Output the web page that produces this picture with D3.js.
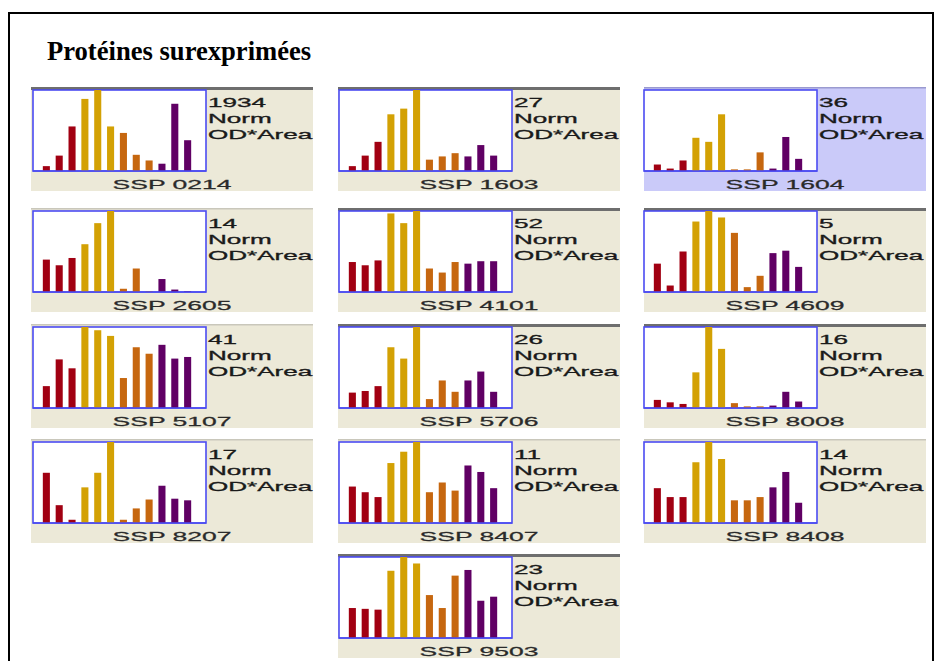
<!DOCTYPE html>
<html>
<head>
<meta charset="utf-8">
<script src="https://cdn.jsdelivr.net/npm/d3@7"></script>
<style>
  html, body { margin: 0; padding: 0; background: #ffffff; }
  svg { display: block; }
</style>
</head>
<body>
<div id="chart"></div>
<script>
// ---------------- DATA (relative bar heights, % of panel maximum) ----------------
const title = "Protéines surexprimées";
const spotNames  = ["SSP 0214", "SSP 1603", "SSP 1604", "SSP 2605", "SSP 4101", "SSP 4609",
                    "SSP 5107", "SSP 5706", "SSP 8008", "SSP 8207", "SSP 8407", "SSP 8408", "SSP 9503"];
const spotCounts = ["1934", "27", "36", "14", "52", "5", "41", "26", "16", "17", "11", "14", "23"];
const infoLines  = ["Norm", "OD*Area"];

const ssp0214 = [6, 19, 55, 89, 100, 55, 47, 20, 13, 9, 83, 38];
const ssp1603 = [6, 19, 36, 70, 77, 100, 14, 18, 22, 18, 32, 19];
const ssp1604 = [8, 3, 13, 41, 36, 70, 2, 2, 23, 3, 42, 15];
const ssp2605 = [40, 33, 42, 59, 85, 100, 4, 29, 1, 16, 3, 1];
const ssp4101 = [37, 33, 39, 97, 85, 100, 29, 24, 37, 35, 38, 38];
const ssp4609 = [35, 8, 50, 87, 100, 92, 73, 6, 20, 48, 51, 31];
const ssp5107 = [27, 60, 49, 100, 96, 89, 37, 75, 67, 78, 61, 63];
const ssp5706 = [19, 21, 27, 75, 61, 100, 11, 34, 20, 34, 45, 20];
const ssp8008 = [10, 7, 5, 44, 100, 73, 6, 2, 2, 3, 20, 8];
const ssp8207 = [62, 22, 4, 44, 62, 100, 4, 18, 29, 46, 30, 28];
const ssp8407 = [45, 38, 32, 74, 88, 100, 38, 50, 40, 71, 63, 43];
const ssp8408 = [43, 32, 32, 75, 100, 79, 28, 28, 32, 44, 63, 25];
const ssp9503 = [37, 36, 35, 83, 100, 92, 53, 37, 77, 84, 46, 51];

const spotValues = [ssp0214, ssp1603, ssp1604, ssp2605, ssp4101, ssp4609,
                    ssp5107, ssp5706, ssp8008, ssp8207, ssp8407, ssp8408, ssp9503];
const groupColors = ["#a10012", "#d3a104", "#c6670f", "#600064"];
const selectedSpot = "SSP 1604";
const darkEdgeSpots = ["SSP 0214", "SSP 1603", "SSP 4101", "SSP 4609", "SSP 5706", "SSP 8008", "SSP 9503"];

// ---------------- LAYOUT ----------------
const W = 942, H = 661;
const colX = [31, 338, 644];
const rowY = [87, 208, 324, 439, 554];
const panelW = 282, panelH = 104;
const plotW = 173, plotH = 81;
const xStretch = 2.12;

const svg = d3.select("#chart").append("svg")
  .attr("width", W).attr("height", H)
  .style("background", "#ffffff");

// outer frame
svg.append("rect")
  .attr("x", 9).attr("y", 13).attr("width", 924).attr("height", 700)
  .attr("fill", "none").attr("stroke", "#000").attr("stroke-width", 2);

svg.append("text")
  .attr("x", 47).attr("y", 60)
  .attr("font-family", "'Liberation Serif', 'Times New Roman', serif")
  .attr("font-weight", "bold")
  .attr("font-size", 26.6)
  .attr("fill", "#000")
  .text(title);

const panels = spotNames.map((name, i) => ({
  name, count: spotCounts[i], values: spotValues[i],
  row: i < 12 ? Math.floor(i / 3) : 4,
  col: i < 12 ? i % 3 : 1
}));

const x = d3.scaleBand().domain(d3.range(12)).range([7, 161]).paddingInner(0.45).paddingOuter(0.22);
const y = d3.scaleLinear().domain([0, 100]).range([plotH, 0]);
const color = i => groupColors[Math.floor(i / 3)];

panels.forEach(p => {
  const px = colX[p.col], py = rowY[p.row];
  const g = svg.append("g").attr("transform", `translate(${px},${py})`);
  const sel = p.name === selectedSpot;

  g.append("rect").attr("x", 0).attr("y", 0).attr("width", panelW).attr("height", panelH)
    .attr("fill", sel ? "#cacaf9" : "#ece9d8");
  g.append("rect").attr("x", 0).attr("y", 0).attr("width", panelW)
    .attr("height", darkEdgeSpots.includes(p.name) ? 3 : 1.5)
    .attr("fill", darkEdgeSpots.includes(p.name) ? "#6e6e6e" : (sel ? "#9a9ad0" : "#c9c7bb"));

  const plotX = p.col === 2 ? 0 : (p.col === 0 ? 2 : 1);
  const plot = g.append("g").attr("transform", `translate(${plotX},3)`);
  plot.append("rect").attr("width", plotW).attr("height", plotH)
    .attr("fill", "#ffffff").attr("stroke", "#4b4bf2").attr("stroke-width", 1.6);

  plot.selectAll("rect.bar").data(p.values).enter().append("rect")
    .attr("class", "bar")
    .attr("x", (d, i) => x(i))
    .attr("width", x.bandwidth())
    .attr("y", d => y(d))
    .attr("height", d => plotH - y(d))
    .attr("fill", (d, i) => color(i));

  plot.append("line").attr("x1", 0).attr("x2", plotW).attr("y1", plotH).attr("y2", plotH)
    .attr("stroke", "#4b4bf2").attr("stroke-width", 1.6);

  const info = [p.count].concat(infoLines);
  info.forEach((t, k) => {
    g.append("g")
      .attr("transform", `translate(${plotX + plotW + 2},${3 + 17 + k * 16}) scale(${xStretch},1)`)
      .append("text")
      .attr("font-family", "'Liberation Sans', Arial, sans-serif")
      .attr("font-size", 12.3)
      .attr("fill", "#1a1a1a")
      .attr("stroke", "#1a1a1a")
      .attr("stroke-width", 0.3)
      .text(t);
  });

  g.append("g")
    .attr("transform", `translate(${panelW / 2},${3 + plotH + 18}) scale(${xStretch},1)`)
    .append("text")
    .attr("text-anchor", "middle")
    .attr("font-family", "'Liberation Sans', Arial, sans-serif")
    .attr("font-size", 12.5)
    .attr("fill", "#2a2a2a")
    .attr("stroke", "#2a2a2a")
    .attr("stroke-width", 0.25)
    .text(p.name);
});
</script>
</body>
</html>
